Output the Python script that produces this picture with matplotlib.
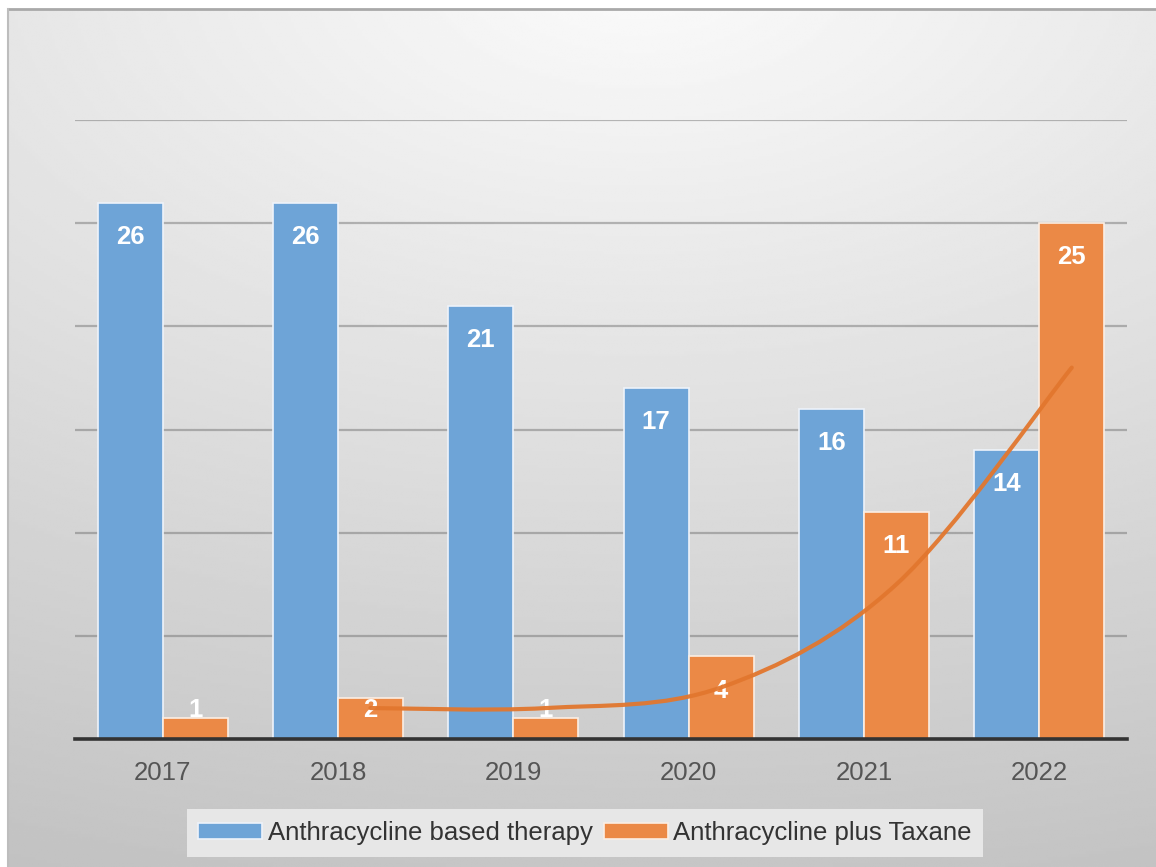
import numpy as np
import matplotlib
matplotlib.use('Agg')
import matplotlib.pyplot as plt
from matplotlib.path import Path
from matplotlib.patches import PathPatch

plt.rcParams['font.family'] = ['Liberation Sans', 'DejaVu Sans']

years = ['2017', '2018', '2019', '2020', '2021', '2022']
anthracycline = [26, 26, 21, 17, 16, 14]
anthra_taxane = [1, 2, 1, 4, 11, 25]
label_a = 'Anthracycline based therapy'
label_b = 'Anthracycline plus Taxane'

color_blue = '#6ea4d7'
color_orange = '#eb8946'
color_trend = '#e2772e'

W, H = 1156, 867
fig = plt.figure(figsize=(W / 100, H / 100), dpi=100)
fig.patch.set_facecolor('white')

# background panel with soft gradient
bg = fig.add_axes([8 / W, 0, 1 - 8 / W, 1 - 9 / H])
yy, xx = np.mgrid[0:1:300j, 0:1:400j]
d = np.sqrt(((xx - 0.55) * 0.75) ** 2 + (yy + 0.05) ** 2)
grad = 0.985 - 0.2 * d
bg.imshow(grad, cmap='gray', vmin=0, vmax=1, aspect='auto', extent=[0, 1, 1, 0])
bg.set_xlim(0, 1)
bg.set_ylim(1, 0)
bg.axis('off')
fig.add_artist(plt.Line2D([8 / W, 1], [1 - 9 / H, 1 - 9 / H], transform=fig.transFigure,
                          color='#a9a9a9', lw=2))
fig.add_artist(plt.Line2D([8 / W, 8 / W], [0, 1 - 9 / H], transform=fig.transFigure,
                          color='#bdbdbd', lw=1.5))

ax = fig.add_axes([75 / W, 1 - 739 / H, (1127 - 75) / W, (739 - 120) / H])
ax.set_facecolor('none')

x = np.arange(len(years))
width = 0.37
off = width / 2

ax.bar(x - off, anthracycline, width, color=color_blue, edgecolor='#eef3fa', lw=1.2,
       label=label_a, zorder=3)
ax.bar(x + off, anthra_taxane, width, color=color_orange, edgecolor='#fbeee4', lw=1.2,
       label=label_b, zorder=3)

# value labels
for xs, vals in [(x - off, anthracycline), (x + off, anthra_taxane)]:
    for xi, v in zip(xs, vals):
        ax.text(xi, max(v - 1.65, 1.4), str(v), ha='center', va='center', color='white',
                fontsize=18.5, fontweight='bold', zorder=4)

# 2-period moving average trendline (smoothed)
ma = [(anthra_taxane[i - 1] + anthra_taxane[i]) / 2 for i in range(1, len(anthra_taxane))]
pts = np.column_stack([x[1:] + off, ma])
ext = np.vstack([pts[0], pts, pts[-1]])
verts = [tuple(pts[0])]
codes = [Path.MOVETO]
for i in range(len(pts) - 1):
    p0, p1, p2, p3 = ext[i], ext[i + 1], ext[i + 2], ext[i + 3]
    c1 = p1 + (p2 - p0) / 6
    c2 = p2 - (p3 - p1) / 6
    verts += [tuple(c1), tuple(c2), tuple(p2)]
    codes += [Path.CURVE4] * 3
ax.add_patch(PathPatch(Path(verts, codes), facecolor='none', edgecolor=color_trend,
                       lw=3, zorder=5, capstyle='round', alpha=0.95))

ax.set_xlim(-0.5, len(years) - 0.5)
ax.set_ylim(0, 30)
ax.set_yticks(np.arange(5, 31, 5))
ax.yaxis.grid(True, color='#6a6a6a', alpha=0.45, lw=1.6, zorder=0)
ax.tick_params(axis='y', left=False, labelleft=False)
ax.set_xticks(x)
ax.set_xticklabels(years)
ax.tick_params(axis='x', length=0, pad=16, labelsize=18.5, labelcolor='#555555')
for s in ['top', 'right', 'left']:
    ax.spines[s].set_visible(False)
ax.spines['bottom'].set_color('#333333')
ax.spines['bottom'].set_linewidth(2.6)
ax.spines['bottom'].set_zorder(6)

handles, labels = ax.get_legend_handles_labels()
leg = fig.legend(handles, labels, loc='center', bbox_to_anchor=(585 / W, 1 - 833 / H), ncol=2,
                 fontsize=18.5, frameon=True, fancybox=False, facecolor='#e7e7e7',
                 edgecolor='none', framealpha=1, handlelength=2.5, handleheight=0.6,
                 handletextpad=0.2, columnspacing=0.45, borderpad=0.45, labelcolor='#333333')

plt.savefig('out.png', dpi=100)
